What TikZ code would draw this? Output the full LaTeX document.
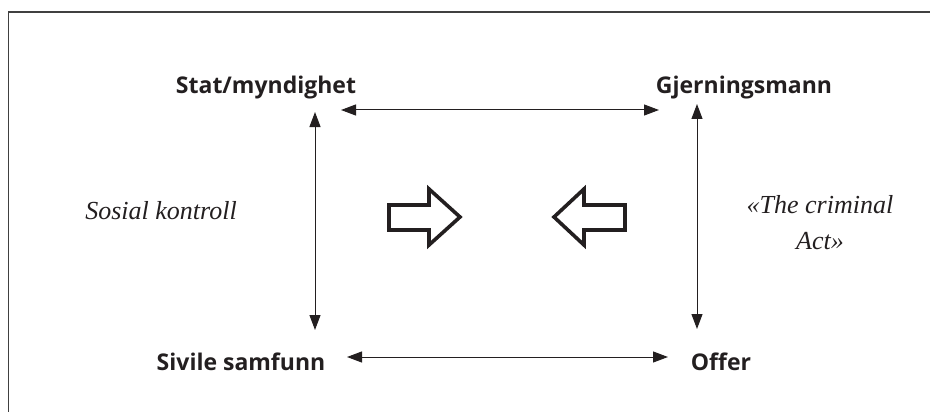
\documentclass[tikz,border=0pt]{standalone}
\usepackage{fontspec}
\setmainfont{Liberation Serif}
\setsansfont{Open Sans}
\usepackage{xcolor}
\usepackage{tikz}
\usetikzlibrary{arrows.meta}
\definecolor{ink}{HTML}{231F20}

\begin{document}
\begin{tikzpicture}[
				x=1pt, y=-1pt,
				actor/.style={
					font=\sffamily\bfseries\fontsize{23}{27}\selectfont,
					text=ink,
					inner sep=0pt,
					anchor=base
				},
				note/.style={
					font=\itshape\fontsize{26}{36}\selectfont,
					text=ink,
					inner sep=0pt,
					align=center
				},
				link/.style={
					{Triangle[length=15pt,width=11pt]}-{Triangle[length=15pt,width=11pt]},
					line width=1pt,
					draw=ink
				},
				bigarrow/.style={
					draw=ink,
					line width=3.6pt,
					line join=miter
				},
				frame/.style={
					draw=black!75,
					line width=1.5pt
				}
			]
			\useasboundingbox (0,0) rectangle (930,412);
			\draw[frame] (8.5,412) -- (8.5,12) -- (930,12);
			% Nodes
			\node[actor] (stat) at (266,94) {Stat/myndighet};
			\node[actor] (gjern) at (744,93) {Gjerningsmann};
			\node[actor] (sivile) at (241,370) {Sivile samfunn};
			\node[actor] (offer) at (721,370) {Offer};
			\node[note, anchor=base] (sosial) at (161,219) {Sosial kontroll};
			\node[note, anchor=north] (crime) at (820,195) {«The criminal\\ Act»};
			
			\draw[link] ([shift={(75,16)}]stat.base) -- ([shift={(-85,17)}]gjern.base);
			\draw[link] ([shift={(49,18)}]stat.base) -- ([shift={(74,-40)}]sivile.base);
			\draw[link] ([shift={(-47,11)}]gjern.base) -- ([shift={(-24,-41)}]offer.base);
			\draw[link] ([shift={(106,-13)}]sivile.base) -- ([shift={(-53,-13)}]offer.base);
			
			% hollow arrows
			\draw[bigarrow] (389,205) -- (429,205) -- (429,189) -- (460,217) -- (429,245) -- (429,230) -- (389,230) -- cycle;
			\draw[bigarrow] (625,205) -- (584,205) -- (584,189) -- (554,217) -- (584,245) -- (584,230) -- (625,230) -- cycle;
		\end{tikzpicture}
\end{document}
